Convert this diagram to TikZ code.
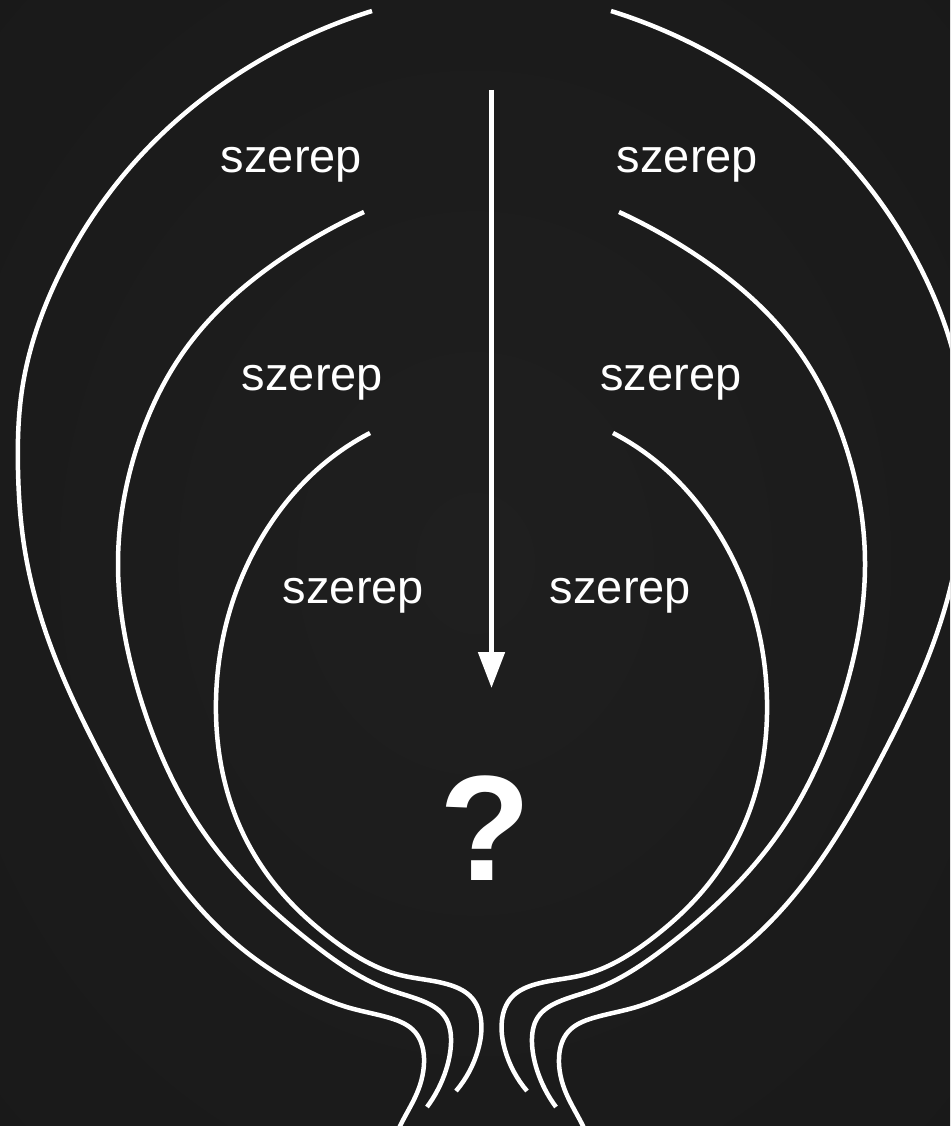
\documentclass[tikz,border=0pt]{standalone}
\usepackage{fontspec}
\setmainfont{Liberation Sans}
\usetikzlibrary{arrows.meta,hobby}
\definecolor{bgin}{RGB}{31,31,31}
\definecolor{bgmid}{RGB}{23,23,23}
\definecolor{bgout}{RGB}{13,13,13}
\pgfdeclareradialshading{bgshade}{\pgfpoint{0bp}{0bp}}{color(0bp)=(bgin); color(50bp)=(bgmid); color(72bp)=(bgout)}
\newcommand{\mycurves}{%
  \draw[curve] (372,11) .. (273,53) .. (143,153) .. (60,273) .. (22,390) .. (18,470) .. (24,545) .. (45,630) .. (103,760) .. (187,893) .. (240,947) .. (300,987) .. (350,1008) .. (390,1018) .. (415,1032) .. (424,1058) .. (417,1093) .. (400,1126) .. (394,1140);
  \draw[curve] (364,212) .. (290,253) .. (187,347) .. (137,447) .. (118,563) .. (140,697) .. (200,827) .. (317,947) .. (390,990) .. (425,1002) .. (445,1017) .. (451,1043) .. (446,1070) .. (427,1107);
  \draw[curve] (370,433) .. (320,467) .. (273,520) .. (230,610) .. (216,700) .. (240,827) .. (277,887) .. (333,940) .. (400,975) .. (450,985) .. (472,998) .. (481,1020) .. (478,1050) .. (456,1091);
}
\begin{document}
\begin{tikzpicture}[x=1pt,y=-1pt,
  curve/.style={white, line width=4.5pt, use Hobby shortcut},
  lbl/.style={text=white, inner sep=0pt, anchor=base, font=\fontsize{47}{56}\selectfont},
  qmark/.style={text=white, inner sep=0pt, anchor=base, font=\bfseries\fontsize{150}{170}\selectfont}]
\useasboundingbox (0,0) rectangle (950,1126);
\shade[shading=bgshade] (0,0) rectangle (950,1126);
\clip (0,0) rectangle (950,1126);
\mycurves
\begin{scope}[xshift=983pt, xscale=-1]
\mycurves
\end{scope}
\coordinate (arrowtop) at (491.5,90);
\coordinate (arrowtip) at (491.5,688);
\draw[white, line width=5pt, -{Triangle[width=26pt,length=36pt]}] (arrowtop) -- (arrowtip);
\node[lbl] (l1) at (291.5,173) {szerep};
\node[lbl] (r1) at (687.5,173) {szerep};
\node[lbl] (l2) at (312.5,390) {szerep};
\node[lbl] (r2) at (671,390) {szerep};
\node[lbl] (l3) at (353.5,603) {szerep};
\node[lbl] (r3) at (620.5,603) {szerep};
\node[qmark] (q) at (485,880) {?};
\end{tikzpicture}
\end{document}
